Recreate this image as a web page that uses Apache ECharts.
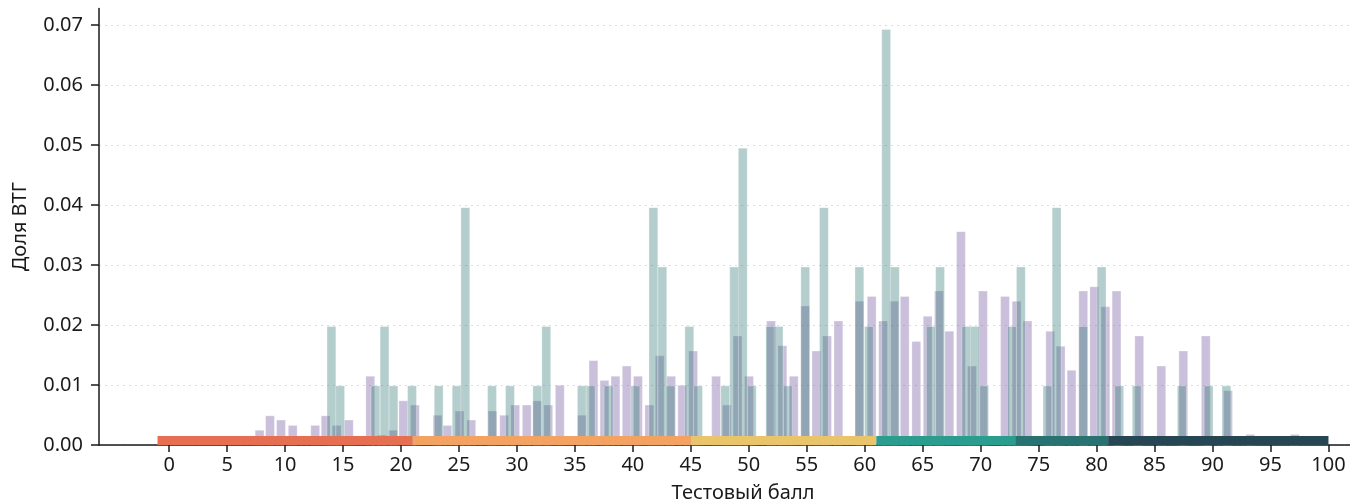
<!DOCTYPE html>
<html>
<head>
<meta charset="utf-8">
<script src="https://cdn.jsdelivr.net/npm/echarts@6/dist/echarts.min.js"></script>
<style>
html,body{margin:0;padding:0;background:#fff;}
#chart{width:1350px;height:504px;}
</style>
</head>
<body>
<div id="chart"></div>
<script>
// ---- data ----
const purpleX = [7.8, 8.7, 9.65, 10.66, 12.6, 13.5, 14.45, 15.5, 17.35, 18.35, 19.3, 20.2, 21.2, 23.15, 24.0, 25.05, 26.06, 27.9, 28.9, 29.85, 30.85, 31.75, 32.7, 33.7, 35.6, 36.6, 37.55, 38.5, 39.47, 40.44, 41.42, 42.32, 43.3, 44.26, 45.2, 47.18, 48.1, 49.03, 50.02, 51.92, 52.9, 53.88, 54.87, 55.83, 56.75, 57.73, 59.55, 60.6, 61.58, 62.54, 63.45, 64.45, 65.43, 66.4, 67.3, 68.3, 69.25, 70.2, 72.1, 73.1, 74.04, 76.0, 76.9, 77.84, 78.85, 79.8, 80.76, 81.72, 83.68, 85.58, 87.48, 89.42, 91.34, 93.26, 97.1];
const purpleY = [0.0025, 0.0049, 0.0042, 0.0033, 0.0033, 0.0049, 0.0033, 0.0042, 0.0115, 0.0017, 0.0025, 0.0074, 0.0067, 0.0050, 0.0033, 0.0057, 0.0042, 0.0057, 0.0050, 0.0067, 0.0067, 0.0074, 0.0067, 0.0100, 0.0050, 0.0141, 0.0108, 0.0115, 0.0132, 0.0115, 0.0067, 0.0149, 0.0115, 0.0100, 0.0157, 0.0115, 0.0067, 0.0182, 0.0115, 0.0207, 0.0166, 0.0115, 0.0232, 0.0157, 0.0182, 0.0207, 0.0240, 0.0248, 0.0207, 0.0240, 0.0248, 0.0173, 0.0215, 0.0257, 0.0190, 0.0356, 0.0132, 0.0257, 0.0248, 0.0240, 0.0207, 0.0190, 0.0165, 0.0125, 0.0257, 0.0264, 0.0231, 0.0257, 0.0182, 0.0132, 0.0157, 0.0182, 0.0091, 0.0018, 0.0018];

const tealX = [14.0, 14.75, 17.8, 18.58, 19.35, 20.95, 23.25, 24.8, 25.55, 27.85, 29.4, 31.76, 32.53, 35.6, 36.36, 37.9, 40.22, 41.77, 42.54, 43.25, 44.87, 45.62, 47.97, 48.74, 49.48, 50.26, 51.85, 52.57, 53.36, 54.87, 56.48, 59.54, 60.36, 61.85, 62.6, 65.7, 66.5, 68.77, 69.5, 70.3, 72.7, 73.47, 75.76, 76.55, 78.85, 80.43, 81.95, 83.46, 87.35, 89.66, 91.2];
const tealY = [0.0198, 0.0099, 0.0099, 0.0198, 0.0099, 0.0099, 0.0099, 0.0099, 0.0396, 0.0099, 0.0099, 0.0099, 0.0198, 0.0099, 0.0099, 0.0099, 0.0099, 0.0396, 0.0297, 0.0099, 0.0198, 0.0099, 0.0099, 0.0297, 0.0495, 0.0099, 0.0198, 0.0198, 0.0099, 0.0297, 0.0396, 0.0297, 0.0198, 0.0693, 0.0297, 0.0198, 0.0297, 0.0198, 0.0198, 0.0099, 0.0198, 0.0297, 0.0099, 0.0396, 0.0198, 0.0297, 0.0099, 0.0099, 0.0099, 0.0099, 0.0099];

const bandStart = [-1, 21, 45, 61, 73, 81];
const bandEnd = [21, 45, 61, 73, 81, 100];
const bandColors = ['#e76f51', '#f4a261', '#e9c46a', '#2a9d8f', '#287271', '#264653'];
const bandHeight = 0.0015;

const xTicks = [0, 5, 10, 15, 20, 25, 30, 35, 40, 45, 50, 55, 60, 65, 70, 75, 80, 85, 90, 95, 100];
const yTicks = [0, 0.01, 0.02, 0.03, 0.04, 0.05, 0.06, 0.07];

const xTitle = 'Тестовый балл';
const yTitle = 'Доля ВТГ';

// ---- chart ----
const chart = echarts.init(document.getElementById('chart'), null, {renderer: 'canvas'});
const FONT = 'Noto Sans';
const bandData = bandStart.map((s, i) => [s, bandEnd[i], bandHeight, i]);

chart.setOption({
  animation: false,
  backgroundColor: '#ffffff',
  grid: {left: 99, top: 8.4, width: 1288, height: 436.6, outerBoundsMode: 'none', containLabel: false},
  xAxis: {
    type: 'value',
    min: -6.05, max: 105.05,
    name: xTitle, nameLocation: 'middle', nameGap: 38,
    nameTextStyle: {fontFamily: FONT, fontSize: 20, color: '#1a1a1a'},
    axisLine: {show: true, onZero: false, lineStyle: {color: '#1a1a1a', width: 1.5}},
    axisTick: {show: true, customValues: xTicks, length: 7, lineStyle: {color: '#1a1a1a', width: 1.5}},
    axisLabel: {customValues: xTicks, fontFamily: FONT, fontSize: 20, color: '#1a1a1a', margin: 10},
    splitLine: {show: false}
  },
  yAxis: {
    type: 'value',
    min: 0, max: 0.07277,
    name: yTitle, nameLocation: 'middle', nameGap: 69,
    nameTextStyle: {fontFamily: FONT, fontSize: 20, color: '#1a1a1a'},
    axisLine: {show: true, onZero: false, lineStyle: {color: '#1a1a1a', width: 1.5}},
    axisTick: {show: true, customValues: yTicks, length: 8, lineStyle: {color: '#1a1a1a', width: 1.5}},
    axisLabel: {customValues: yTicks, fontFamily: FONT, fontSize: 20, color: '#1a1a1a', margin: 16,
      formatter: v => v.toFixed(2)},
    splitLine: {show: true, lineStyle: {color: '#dddddd', type: [2, 4], width: 1}}
  },
  series: [
    {
      type: 'bar',
      data: purpleX.map((x, i) => [x, purpleY[i]]),
      barWidth: 9.3,
      barGap: '-100%',
      itemStyle: {color: 'rgba(125,97,165,0.40)', borderColor: 'rgba(255,255,255,0.5)', borderWidth: 0.5},
      z: 2
    },
    {
      type: 'bar',
      data: tealX.map((x, i) => [x, tealY[i]]),
      barWidth: 9.3,
      barGap: '-100%',
      itemStyle: {color: 'rgba(40,114,113,0.35)', borderColor: 'rgba(255,255,255,0.5)', borderWidth: 0.5},
      z: 3
    },
    {
      type: 'custom',
      z: 10,
      data: bandData,
      renderItem: function (params, api) {
        const p0 = api.coord([api.value(0), api.value(2)]);
        const p1 = api.coord([api.value(1), 0]);
        return {
          type: 'rect',
          shape: {x: p0[0], y: p0[1], width: p1[0] - p0[0], height: p1[1] - p0[1]},
          style: {fill: bandColors[api.value(3)]}
        };
      }
    }
  ]
});
</script>
</body>
</html>
